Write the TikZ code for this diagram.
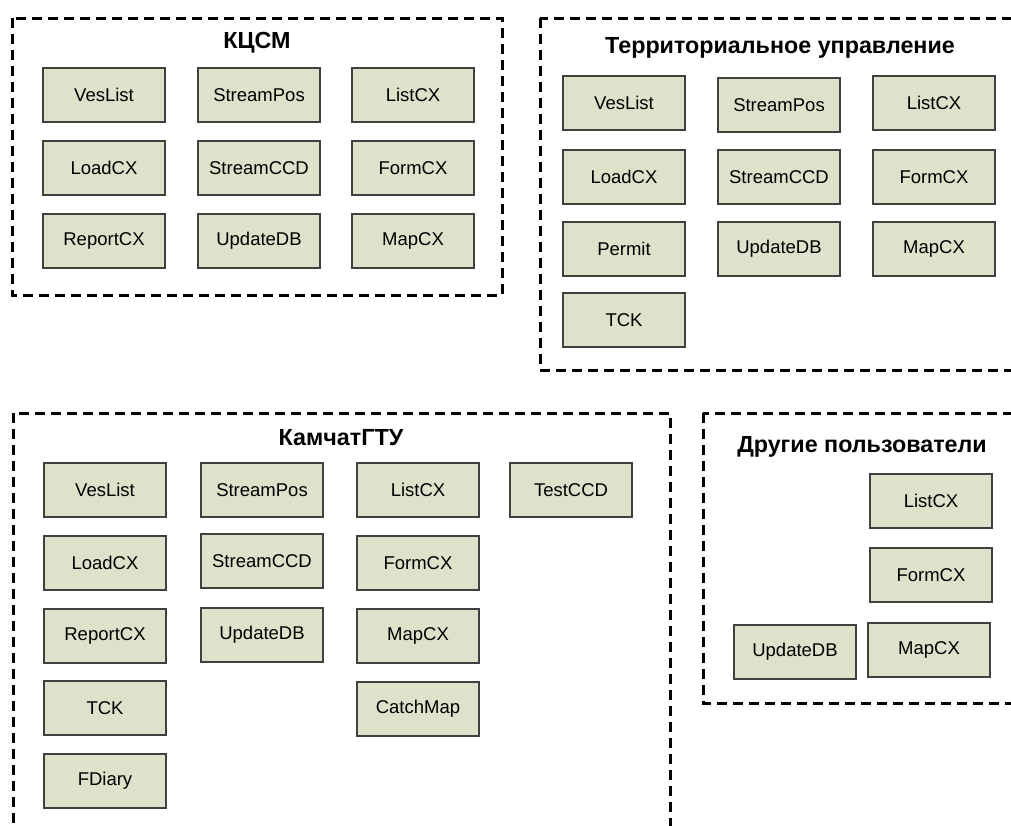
\documentclass[tikz,border=0pt]{standalone}
\usepackage{fontspec}
\setmainfont{Liberation Sans}

\definecolor{modfill}{RGB}{221,226,203}
\definecolor{modline}{RGB}{64,64,64}

\tikzset{
    modbox/.style={draw=modline, fill=modfill, line width=1.3pt, minimum width=122pt, minimum height=54pt, inner sep=0pt, font=\fontsize{18.5}{22}\selectfont},
    groupframe/.style={line width=3pt, dash pattern=on 10pt off 6pt},
    grouptitle/.style={font=\fontsize{23.3}{27}\selectfont\bfseries},
}

\begin{document}
\begin{tikzpicture}[x=1pt,y=-1pt]
        \useasboundingbox (0,0) rectangle (1011,825);
        \clip (0,0) rectangle (1011,825);

        % KCSM
        \draw[groupframe] (12,18) rectangle (502,295);
        \node[grouptitle] (kcsmtitle) at (257,43) {КЦСМ};
        \foreach \x/\y/\name in {104/95/VesList, 259/95/StreamPos, 413/95/ListCX,
                                 104/168/LoadCX, 259/168/StreamCCD, 413/168/FormCX,
                                 104/241/ReportCX, 259/241/UpdateDB, 413/241/MapCX} {
            \node[modbox] (kcsm\name) at (\x,\y) {\name};
        }

        % territorial office
        \draw[groupframe] (540,18) rectangle (1040,370);
        \node[grouptitle] (tutitle) at (780,48) {Территориальное управление};
        \foreach \x/\y/\name in {624/103/VesList, 779/105/StreamPos, 934/103/ListCX,
                                 624/177/LoadCX, 779/177/StreamCCD, 934/177/FormCX,
                                 624/249/Permit, 779/249/UpdateDB, 934/249/MapCX,
                                 624/320/TCK} {
            \node[modbox] (tu\name) at (\x,\y) {\name};
        }

        % KamchatGTU
        \draw[groupframe] (13,413) rectangle (670,860);
        \node[grouptitle] (gtutitle) at (341,438) {КамчатГТУ};
        \foreach \x/\y/\name in {105/490/VesList, 262/490/StreamPos, 418/490/ListCX, 571/490/TestCCD,
                                 105/563/LoadCX, 262/561/StreamCCD, 418/563/FormCX,
                                 105/636/ReportCX, 262/635/UpdateDB, 418/636/MapCX,
                                 105/708/TCK, 418/709/CatchMap,
                                 105/781/FDiary} {
            \node[modbox] (gtu\name) at (\x,\y) {\name};
        }

        % other users
        \draw[groupframe] (703,413) rectangle (1040,703);
        \node[grouptitle] (othtitle) at (862,447) {Другие пользователи};
        \foreach \x/\y/\name in {931/501/ListCX, 931/575/FormCX, 929/650/MapCX, 795/652/UpdateDB} {
            \node[modbox] (oth\name) at (\x,\y) {\name};
        }
    \end{tikzpicture}
\end{document}
